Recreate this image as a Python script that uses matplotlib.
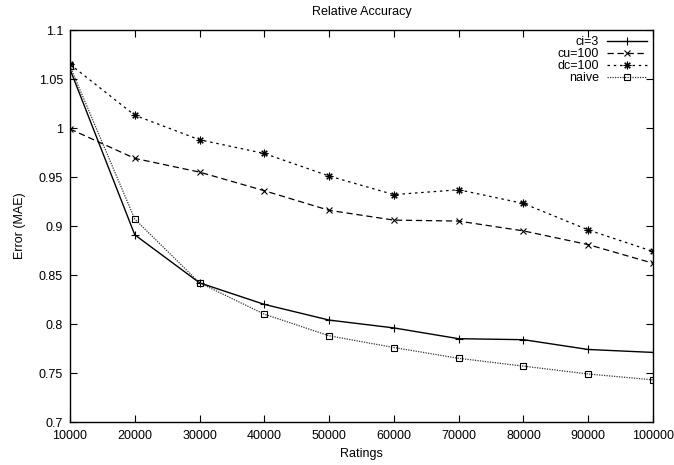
import matplotlib
matplotlib.use("Agg")
import matplotlib.pyplot as plt

plt.rcParams['font.family'] = ['Liberation Sans', 'DejaVu Sans']

ratings = [10000, 20000, 30000, 40000, 50000, 60000, 70000, 80000, 90000, 100000]
ci3 = [1.060, 0.891, 0.842, 0.820, 0.804, 0.796, 0.785, 0.784, 0.774, 0.771]
cu100 = [0.999, 0.969, 0.955, 0.936, 0.916, 0.906, 0.905, 0.895, 0.881, 0.862]
dc100 = [1.065, 1.013, 0.988, 0.974, 0.951, 0.932, 0.937, 0.923, 0.896, 0.874]
naive = [1.063, 0.907, 0.842, 0.810, 0.788, 0.776, 0.765, 0.757, 0.749, 0.743]

xticks = [10000, 20000, 30000, 40000, 50000, 60000, 70000, 80000, 90000, 100000]
yticks = [0.7, 0.75, 0.8, 0.85, 0.9, 0.95, 1.0, 1.05, 1.1]
ytick_labels = ['0.7', '0.75', '0.8', '0.85', '0.9', '0.95', '1', '1.05', '1.1']

fig = plt.figure(figsize=(6.74, 4.65), dpi=100)
ax = fig.add_axes([70/674, 1-422/465, (653-70)/674, (422-30)/465])

ax.plot(ratings, ci3, color='black', lw=1.0, ls='-', marker='+', ms=6, mew=0.8, label='ci=3')
ax.plot(ratings, cu100, color='black', lw=0.9, ls=(0, (5, 3)), marker='x', ms=5, mew=0.8, label='cu=100')
ax.plot(ratings, dc100, color='black', lw=0.9, ls=(0, (2, 3)), marker=(8, 2, 0), ms=5.5, mew=0.8, label='dc=100')
ax.plot(ratings, naive, color='#333333', lw=0.9, ls=(0, (1, 1)), marker='s', ms=4.5, mew=0.8,
        mfc='none', mec='black', label='naive')

ax.set_xlim(10000, 100000)
ax.set_ylim(0.7, 1.1)
ax.set_xticks(xticks)
ax.set_xticklabels([str(v) for v in xticks])
ax.set_yticks(yticks)
ax.set_yticklabels(ytick_labels)
ax.tick_params(direction='in', top=True, right=True, length=5, width=0.8, labelsize=9)
ax.tick_params(axis='x', pad=6)
ax.tick_params(axis='y', pad=5)
for s in ax.spines.values():
    s.set_linewidth(1.0)

ax.set_xlabel('Ratings', fontsize=9, labelpad=4)
ax.set_ylabel('Error (MAE)', fontsize=9, labelpad=9)
ax.set_title('Relative Accuracy', fontsize=9, pad=11)

leg = ax.legend(loc='upper right', frameon=False, markerfirst=False, fontsize=9,
                handlelength=3.2, handletextpad=0.6, labelspacing=0.0,
                borderaxespad=0.2, borderpad=0.3)
for t in leg.get_texts():
    t.set_ha('right')

fig.savefig('out.png', dpi=100)
